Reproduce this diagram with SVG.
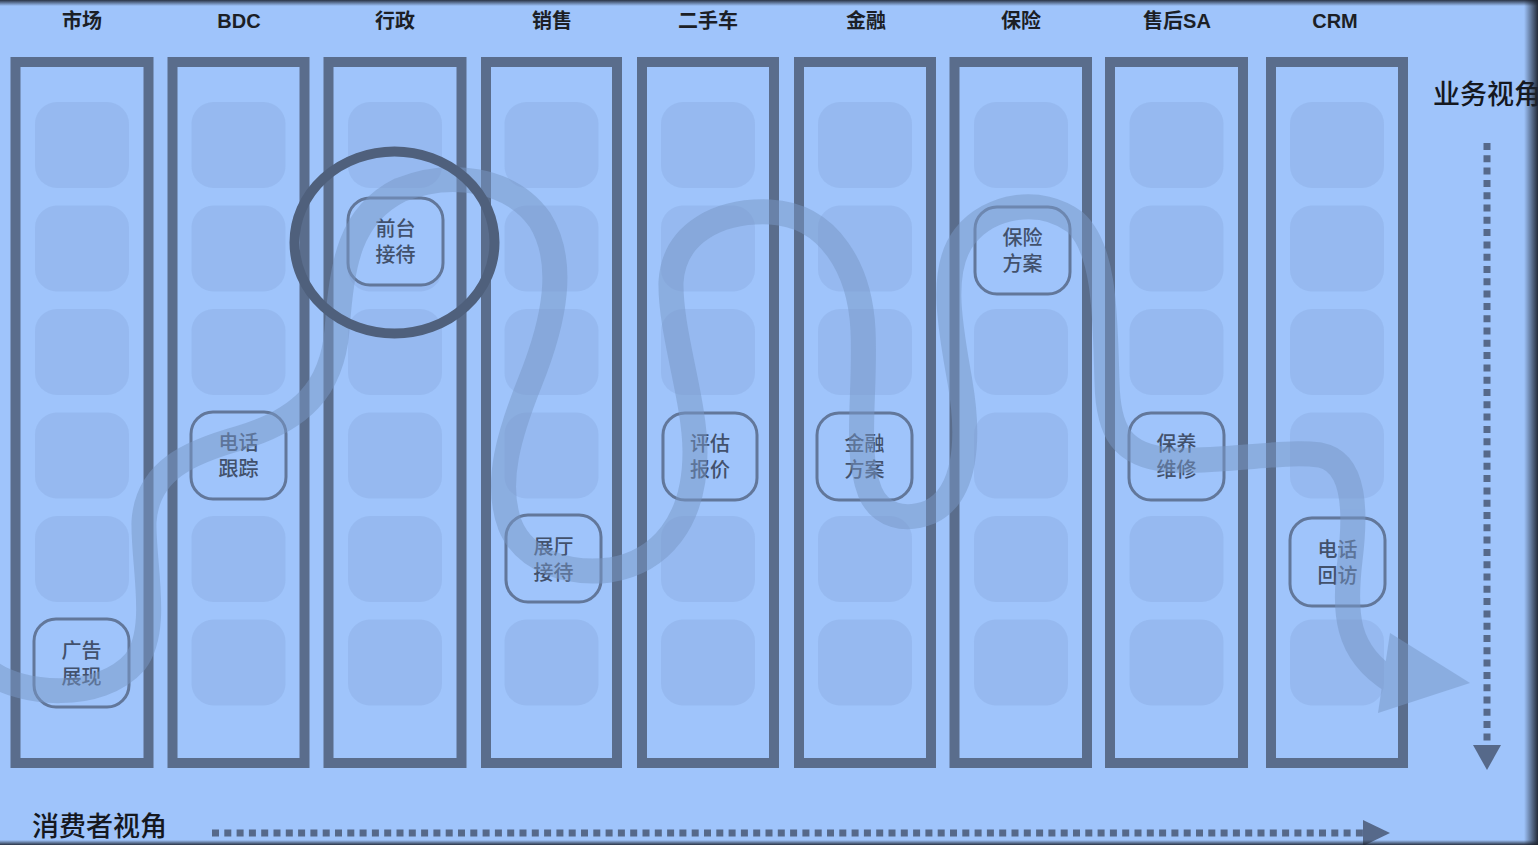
<svg xmlns="http://www.w3.org/2000/svg" width="1538" height="845" viewBox="0 0 1538 845">
<defs>
<style>
.col{fill:none;stroke:#5a6d8c;stroke-width:10}
.tile{fill:#8cadE3;opacity:0.45}
.node rect{fill:#9fc4fb;stroke:#62779a;stroke-width:3}
.node text{font-family:"Noto Sans CJK SC","Noto Sans",sans-serif;font-size:20px;font-weight:500;fill:#42516c;text-anchor:middle}
.hdr{font-family:"Liberation Sans","Noto Sans CJK SC",sans-serif;font-weight:bold;font-size:20px;fill:#1c1f26;text-anchor:middle}
.lbl{font-family:"Noto Sans CJK SC",sans-serif;font-size:27px;font-weight:500;fill:#15181f}
.dot{fill:none;stroke:#56698a;stroke-width:7}
</style>
<linearGradient id="shR" x1="0" y1="0" x2="1" y2="0">
<stop offset="0" stop-color="#1d2330" stop-opacity="0"/>
<stop offset="1" stop-color="#1d2330" stop-opacity="0.95"/>
</linearGradient>
<linearGradient id="shT" x1="0" y1="0" x2="0" y2="1">
<stop offset="0" stop-color="#1d2330" stop-opacity="0.9"/>
<stop offset="1" stop-color="#1d2330" stop-opacity="0"/>
</linearGradient>
<linearGradient id="shB" x1="0" y1="0" x2="0" y2="1">
<stop offset="0" stop-color="#1d2330" stop-opacity="0"/>
<stop offset="1" stop-color="#1d2330" stop-opacity="0.9"/>
</linearGradient>
<symbol id="tiles" overflow="visible">
<rect class="tile" x="-47" y="102" width="94" height="86" rx="22"/>
<rect class="tile" x="-47" y="205.5" width="94" height="86" rx="22"/>
<rect class="tile" x="-47" y="309" width="94" height="86" rx="22"/>
<rect class="tile" x="-47" y="412.5" width="94" height="86" rx="22"/>
<rect class="tile" x="-47" y="516" width="94" height="86" rx="22"/>
<rect class="tile" x="-47" y="619.5" width="94" height="86" rx="22"/>
</symbol>
</defs>
<rect x="0" y="0" width="1538" height="845" fill="#9fc4fb"/>

<g id="headers">
<text class="hdr" x="82" y="28">市场</text>
<text class="hdr" x="239" y="28">BDC</text>
<text class="hdr" x="395" y="28">行政</text>
<text class="hdr" x="552" y="28">销售</text>
<text class="hdr" x="708" y="28">二手车</text>
<text class="hdr" x="866" y="28">金融</text>
<text class="hdr" x="1021" y="28">保险</text>
<text class="hdr" x="1177" y="28">售后SA</text>
<text class="hdr" x="1335" y="28">CRM</text>
</g>

<g id="columns">
<rect class="col" x="15.5" y="62" width="133" height="701"/>
<rect class="col" x="172.5" y="62" width="132" height="701"/>
<rect class="col" x="328.5" y="62" width="133" height="701"/>
<rect class="col" x="486" y="62" width="131" height="701"/>
<rect class="col" x="642" y="62" width="132" height="701"/>
<rect class="col" x="799" y="62" width="132" height="701"/>
<rect class="col" x="954.5" y="62" width="132.5" height="701"/>
<rect class="col" x="1110" y="62" width="133" height="701"/>
<rect class="col" x="1271" y="62" width="132" height="701"/>
</g>

<g id="tile-grid">
<use href="#tiles" x="82" y="0"/>
<use href="#tiles" x="238.5" y="0"/>
<use href="#tiles" x="395" y="0"/>
<use href="#tiles" x="551.5" y="0"/>
<use href="#tiles" x="708" y="0"/>
<use href="#tiles" x="865" y="0"/>
<use href="#tiles" x="1021" y="0"/>
<use href="#tiles" x="1176.5" y="0"/>
<use href="#tiles" x="1337" y="0"/>
</g>

<g id="node-guanggao" class="node">
<rect x="34" y="619" width="95" height="88" rx="22"/>
<text x="81.5" y="658">广告</text><text x="81.5" y="684">展现</text>
</g>
<g id="node-dianhuagenzong" class="node">
<rect x="191" y="412" width="95" height="87" rx="22"/>
<text x="238.5" y="450">电话</text><text x="238.5" y="476">跟踪</text>
</g>
<g id="node-qiantai" class="node">
<rect x="348" y="198" width="95" height="87" rx="22"/>
<text x="395.5" y="236">前台</text><text x="395.5" y="262">接待</text>
</g>
<g id="node-zhanting" class="node">
<rect x="506" y="515" width="95" height="87" rx="22"/>
<text x="553.5" y="554">展厅</text><text x="553.5" y="580">接待</text>
</g>
<g id="node-pinggu" class="node">
<rect x="663" y="413" width="94" height="87" rx="22"/>
<text x="710" y="451">评估</text><text x="710" y="477">报价</text>
</g>
<g id="node-jinrong" class="node">
<rect x="817" y="413" width="95" height="87" rx="22"/>
<text x="864.5" y="451">金融</text><text x="864.5" y="477">方案</text>
</g>
<g id="node-baoxian" class="node">
<rect x="975" y="207" width="95" height="87" rx="22"/>
<text x="1022.5" y="245">保险</text><text x="1022.5" y="271">方案</text>
</g>
<g id="node-baoyang" class="node">
<rect x="1129" y="413" width="95" height="87" rx="22"/>
<text x="1176.5" y="451">保养</text><text x="1176.5" y="477">维修</text>
</g>
<g id="node-huifang" class="node">
<rect x="1290" y="518" width="95" height="88" rx="22"/>
<text x="1337.5" y="557">电话</text><text x="1337.5" y="583">回访</text>
</g>

<g id="connectors">
<g opacity="0.5">
<path d="M -10,672 C 20,695 100,702 135,662 C 160,630 143,565 144,522 C 147,470 190,452 240,438 C 300,420 332,390 337,330 C 342,262 350,215 400,190 C 450,170 510,178 540,220 C 566,262 555,320 530,382 C 510,432 494,482 510,525 C 525,562 570,575 610,570 C 660,562 695,522 695,452 C 695,400 670,332 671,282 C 674,232 720,210 770,212 C 830,215 860,270 863,330 C 866,392 854,452 870,492 C 880,516 905,522 930,512 C 966,495 970,440 960,382 C 951,330 938,270 965,236 C 990,205 1040,196 1075,222 C 1106,250 1105,320 1107,382 C 1108,432 1122,456 1170,460 C 1220,463 1280,450 1320,455 C 1356,462 1356,512 1350,560 C 1344,612 1345,652 1392,681" fill="none" stroke="#7797c6" stroke-width="25"/>
<polygon points="1390,633 1470,683 1378,713" fill="#7797c6"/>
</g>
<ellipse cx="394.5" cy="242.5" rx="100" ry="91" fill="none" stroke="#4f607c" stroke-width="10"/>
<line class="dot" x1="1487" y1="143" x2="1487" y2="747" stroke-dasharray="7 5.3"/>
<polygon points="1473,745 1501,745 1487,770" fill="#56698a"/>
<line class="dot" x1="212" y1="833" x2="1366" y2="833" stroke-dasharray="7 5.3"/>
<polygon points="1363,820 1390,833 1363,846" fill="#56698a"/>
</g>

<g id="axis-labels">
<text class="lbl" x="1433" y="104">业务视角</text>
<text class="lbl" x="32" y="836">消费者视角</text>
</g>

<rect x="1524" y="0" width="14" height="845" fill="url(#shR)"/>
<rect x="0" y="0" width="1538" height="6" fill="url(#shT)"/>
<rect x="0" y="840" width="1538" height="5" fill="url(#shB)"/>
</svg>
